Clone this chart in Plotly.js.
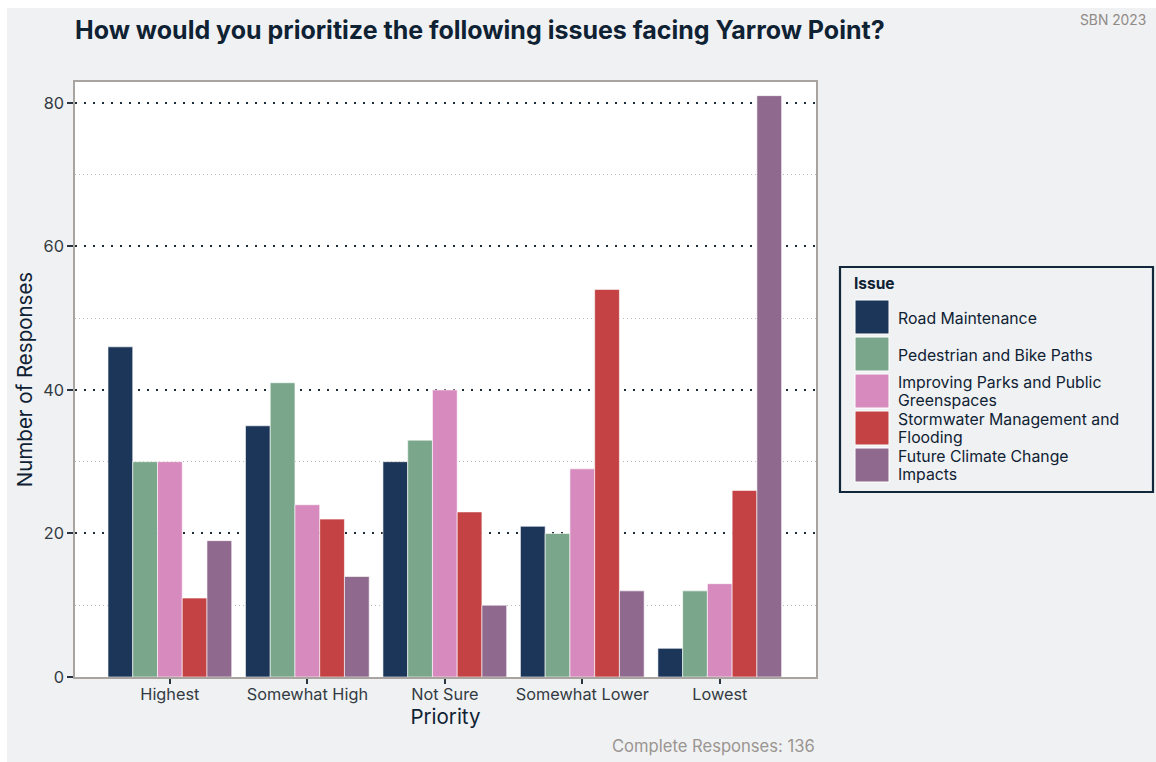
<!DOCTYPE html>
<html>
<head>
<meta charset="utf-8">
<script src="https://cdn.plot.ly/plotly-3.0.1.min.js"></script>
<style>
  html, body { margin: 0; padding: 0; background: #ffffff; }
  #chart { position: absolute; left: 7px; top: 8px; width: 1149px; height: 754px; }
</style>
</head>
<body>
<div id="chart"></div>
<script>
// ---- Data ----
const priorities = ["Highest", "Somewhat High", "Not Sure", "Somewhat Lower", "Lowest"];
const issues = [
  "Road Maintenance",
  "Pedestrian and Bike Paths",
  "Improving Parks and Public Greenspaces",
  "Stormwater Management and Flooding",
  "Future Climate Change Impacts"
];
const legendLines = [
  ["Road Maintenance"],
  ["Pedestrian and Bike Paths"],
  ["Improving Parks and Public", "Greenspaces"],
  ["Stormwater Management and", "Flooding"],
  ["Future Climate Change", "Impacts"]
];
const roadMaintenance = [46, 35, 30, 21, 4];
const pedestrianBike = [30, 41, 33, 20, 12];
const parksGreenspaces = [30, 24, 40, 29, 13];
const stormwater = [11, 22, 23, 54, 26];
const climateChange = [19, 14, 10, 12, 81];
const yTicks = [0, 20, 40, 60, 80];
const colors = ["#1c3659", "#7aa78b", "#d78abd", "#c44244", "#906a8e"];

const seriesValues = [roadMaintenance, pedestrianBike, parksGreenspaces, stormwater, climateChange];

// ---- Layout helpers (div offset: 7,8; plot area px) ----
const W = 1149, H = 754;
const M = { l: 68, r: 340, t: 74, b: 85 };
const PW = W - M.l - M.r, PH = H - M.t - M.b;
const px = x => (x - 7 - M.l) / PW;          // page x -> paper
const py = y => (H - M.b - (y - 8)) / PH;    // page y -> paper

const traces = seriesValues.map((vals, i) => ({
  type: "bar",
  name: issues[i],
  x: priorities,
  y: vals,
  marker: { color: colors[i], line: { color: "rgba(255,255,255,0.75)", width: 0.8 } },
  showlegend: false,
  hovertemplate: issues[i] + "<br>%{x}: %{y}<extra></extra>"
}));

const textDark = "#0f2233";
const shapes = [];
const annotations = [];

// Legend box
shapes.push({
  type: "rect", xref: "paper", yref: "paper",
  x0: px(840), x1: px(1153), y0: py(492), y1: py(267),
  line: { color: "#12283a", width: 2.2 }, fillcolor: "rgba(0,0,0,0)"
});
annotations.push({
  xref: "paper", yref: "paper", x: px(852), y: py(283),
  xanchor: "left", yanchor: "middle", showarrow: false,
  text: "<b>Issue</b>", font: { family: "Inter, sans-serif", size: 15.5, color: textDark }
});
issues.forEach((name, i) => {
  const top = 300 + i * 37;
  shapes.push({
    type: "rect", xref: "paper", yref: "paper",
    x0: px(855), x1: px(889), y0: py(top + 34), y1: py(top),
    line: { color: "#ffffff", width: 1 }, fillcolor: colors[i]
  });
  const lines = legendLines[i];
  const centers = lines.length === 1 ? [top + 18] : [top + 8, top + 26.5];
  lines.forEach((ln, k) => {
    annotations.push({
      xref: "paper", yref: "paper", x: px(897), y: py(centers[k]),
      xanchor: "left", yanchor: "middle", align: "left", showarrow: false,
      borderpad: 0,
      text: ln, font: { family: "Inter, sans-serif", size: 15.8, color: textDark }
    });
  });
});

annotations.push({
  xref: "paper", yref: "paper", x: px(1148), y: py(20),
  xanchor: "right", yanchor: "middle", showarrow: false,
  text: "SBN 2023", font: { family: "Inter, sans-serif", size: 13.8, color: "#8f8a86" }
});
annotations.push({
  xref: "paper", yref: "paper", x: px(817), y: py(746),
  xanchor: "right", yanchor: "middle", showarrow: false,
  text: "Complete Responses: 136", font: { family: "Inter, sans-serif", size: 16.6, color: "#9a9591" }
});

const layout = {
  width: W, height: H,
  margin: M,
  paper_bgcolor: "#f0f1f3",
  plot_bgcolor: "#ffffff",
  font: { family: "Inter, sans-serif", color: "#333b42" },
  title: {
    text: "<b>How would you prioritize the following issues facing Yarrow Point?</b>",
    xref: "paper", x: px(75), xanchor: "left",
    yref: "container", y: 1 - (30 - 8) / H, yanchor: "middle",
    font: { family: "Inter, sans-serif", size: 25, color: textDark }
  },
  barmode: "group",
  bargap: 0.1,
  bargroupgap: 0,
  xaxis: {
    type: "category",
    range: [-0.69, 4.7],
    showgrid: false,
    zeroline: false,
    showline: true, mirror: true, linecolor: "#a9a4a0", linewidth: 1.5,
    ticks: "outside", ticklen: 5, tickwidth: 2, tickcolor: "#2a3540",
    ticklabelstandoff: -3,
    tickfont: { size: 16.3, color: "#333b42" },
    title: { text: "Priority", standoff: 4, font: { size: 20.5, color: textDark } }
  },
  yaxis: {
    range: [0, 82.9],
    tickvals: yTicks,
    ticktext: yTicks.map(String),
    showgrid: true,
    gridcolor: "#1b2b38", gridwidth: 2, griddash: "2px,7px",
    minor: { tickvals: [10, 30, 50, 70], showgrid: true, gridcolor: "#b9b9b9", gridwidth: 1, griddash: "1px,3px", ticks: "" },
    zeroline: false,
    showline: true, mirror: true, linecolor: "#a9a4a0", linewidth: 1.5,
    ticks: "outside", ticklen: 6, tickwidth: 2, tickcolor: "#2a3540",
    tickfont: { size: 16.3, color: "#333b42" },
    title: { text: "Number of Responses", standoff: 5, font: { size: 20.5, color: textDark } }
  },
  shapes: shapes,
  annotations: annotations
};

Plotly.newPlot("chart", traces, layout, { displayModeBar: false, responsive: false });
</script>
</body>
</html>
